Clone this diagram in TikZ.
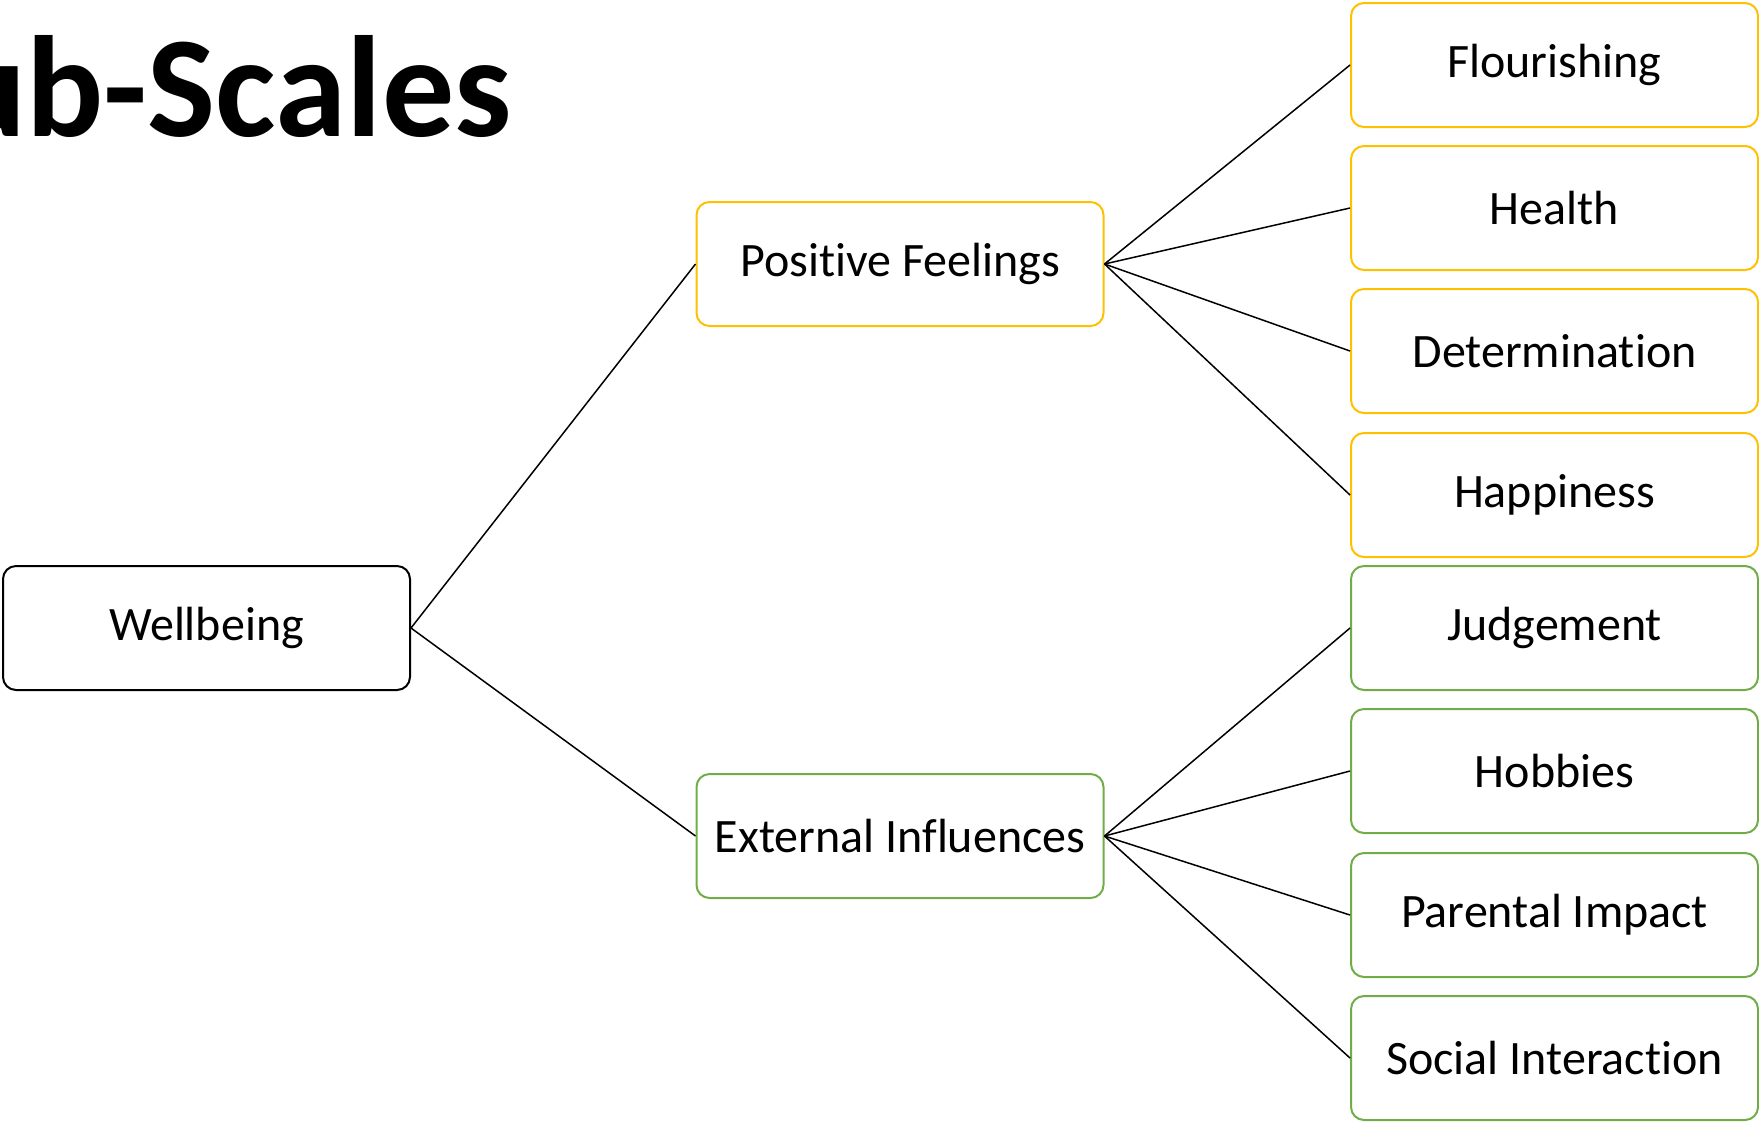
\documentclass[tikz,border=0pt]{standalone}
\usepackage{fontspec}
\setmainfont[Ligatures=NoCommon]{Carlito}
\definecolor{yel}{HTML}{FFC000}
\definecolor{grn}{HTML}{70AD47}
\begin{document}
\begin{tikzpicture}[x=0.5pt,y=-0.5pt,
  box/.style={draw, rounded corners=6.5pt, line width=1pt, fill=white,
    minimum width=203.5pt, minimum height=62pt, inner sep=0pt,
    font=\fontsize{24}{29}\selectfont},
  ybox/.style={box, draw=yel},
  gbox/.style={box, draw=grn},
  kbox/.style={box, draw=black},
  link/.style={draw=black, line width=0.75pt}]
\useasboundingbox (0,0) rectangle (1759,1121);
\clip (0,0) rectangle (1759,1121);
\node[anchor=base east, inner sep=0pt, font=\fontsize{72}{80}\bfseries\selectfont] (title) at (512,136) {Sub-Scales};
\node[kbox] (wb) at (206.5,628) {Wellbeing};
\node[ybox] (pf) at (900,264) {Positive Feelings};
\node[gbox] (ei) at (900,836) {External Influences};
\node[ybox] (fl) at (1554.5,65) {Flourishing};
\node[ybox] (he) at (1554.5,208) {Health};
\node[ybox] (de) at (1554.5,351) {Determination};
\node[ybox] (ha) at (1554.5,495) {Happiness};
\node[gbox] (ju) at (1554.5,628) {Judgement};
\node[gbox] (ho) at (1554.5,771) {Hobbies};
\node[gbox] (pa) at (1554.5,915) {Parental Impact};
\node[gbox] (si) at (1554.5,1058) {Social Interaction};
\draw[link] (wb.east) -- (pf.west);
\draw[link] (wb.east) -- (ei.west);
\foreach \t in {fl,he,de,ha} \draw[link] (pf.east) -- (\t.west);
\foreach \t in {ju,ho,pa,si} \draw[link] (ei.east) -- (\t.west);
\end{tikzpicture}
\end{document}
